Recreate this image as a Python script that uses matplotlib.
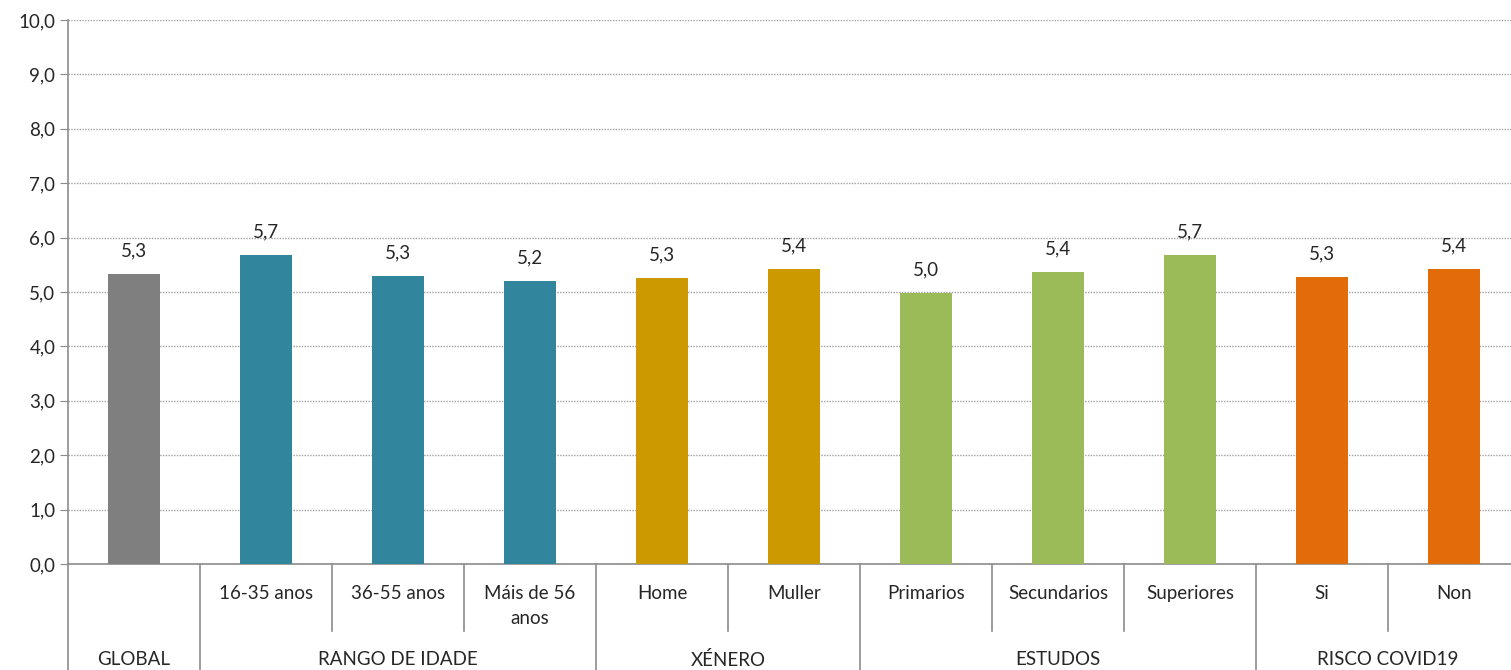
import matplotlib.pyplot as plt
import matplotlib.transforms as mtransforms

plt.rcParams['font.family'] = ['Lato', 'DejaVu Sans']

# Datos
categorias = ['', '16-35 anos', '36-55 anos', 'Máis de 56\nanos', 'Home', 'Muller',
              'Primarios', 'Secundarios', 'Superiores', 'Si', 'Non']
valores = [5.34, 5.68, 5.30, 5.21, 5.26, 5.42, 4.98, 5.37, 5.68, 5.28, 5.42]
etiquetas = ['5,3', '5,7', '5,3', '5,2', '5,3', '5,4', '5,0', '5,4', '5,7', '5,3', '5,4']
grupos = ['GLOBAL', 'RANGO DE IDADE', 'XÉNERO', 'ESTUDOS', 'RISCO COVID19']
tamanho_grupos = [1, 3, 2, 3, 2]
cores_grupos = ['#7F7F7F', '#31859C', '#CC9900', '#9BBB59', '#E36C0A']

cores = []
for cor, n in zip(cores_grupos, tamanho_grupos):
    cores += [cor] * n

fs = 13.5
fig = plt.figure(figsize=(15.11, 6.70), dpi=100)
ax = fig.add_axes([68 / 1511, 106 / 670, 1452 / 1511, 544 / 670])

x = list(range(len(valores)))
ax.bar(x, valores, width=0.4, color=cores, zorder=3)

for xi, v, lab in zip(x, valores, etiquetas):
    ax.text(xi, v + 0.42, lab, ha='center', va='center', fontsize=fs, color='#262626')

ax.set_xlim(-0.5, len(valores) - 0.5)
ax.set_ylim(0, 10)
ax.set_yticks(range(0, 11))
ax.set_yticklabels([f'{i},0' for i in range(0, 11)], fontsize=fs, color='#262626')
ax.set_xticks([])
ax.yaxis.grid(True, linestyle=(0, (1, 1)), color='#A0A0A0', linewidth=1, zorder=0)
ax.tick_params(axis='y', length=6, color='#8C8C8C', pad=3)

for s in ['top', 'right']:
    ax.spines[s].set_visible(False)
ax.spines['left'].set_color('#8C8C8C')
ax.spines['bottom'].set_color('#8C8C8C')
ax.spines['left'].set_linewidth(1.2)
ax.spines['bottom'].set_linewidth(1.2)

# Táboa de categorías baixo o eixo
trans = mtransforms.blended_transform_factory(ax.transData, ax.transAxes)
for xi, cat in zip(x, categorias):
    ax.text(xi, -0.038, cat, ha='center', va='top', fontsize=fs, color='#262626',
            transform=trans, linespacing=1.6)

inicio = 0
limites_grupo = [-0.5]
for g, n in zip(grupos, tamanho_grupos):
    centro = inicio + (n - 1) / 2
    ax.text(centro, -0.176, g, ha='center', va='center', fontsize=fs, color='#262626',
            transform=trans)
    for k in range(1, n):
        ax.plot([inicio + k - 0.5] * 2, [0, -0.123], color='#8C8C8C', lw=1.2,
                transform=trans, clip_on=False)
    inicio += n
    limites_grupo.append(inicio - 0.5)

for b in limites_grupo[:-1]:
    ax.plot([b, b], [0, -0.2], color='#8C8C8C', lw=1.2, transform=trans, clip_on=False)

fig.savefig('out.png', dpi=100)
